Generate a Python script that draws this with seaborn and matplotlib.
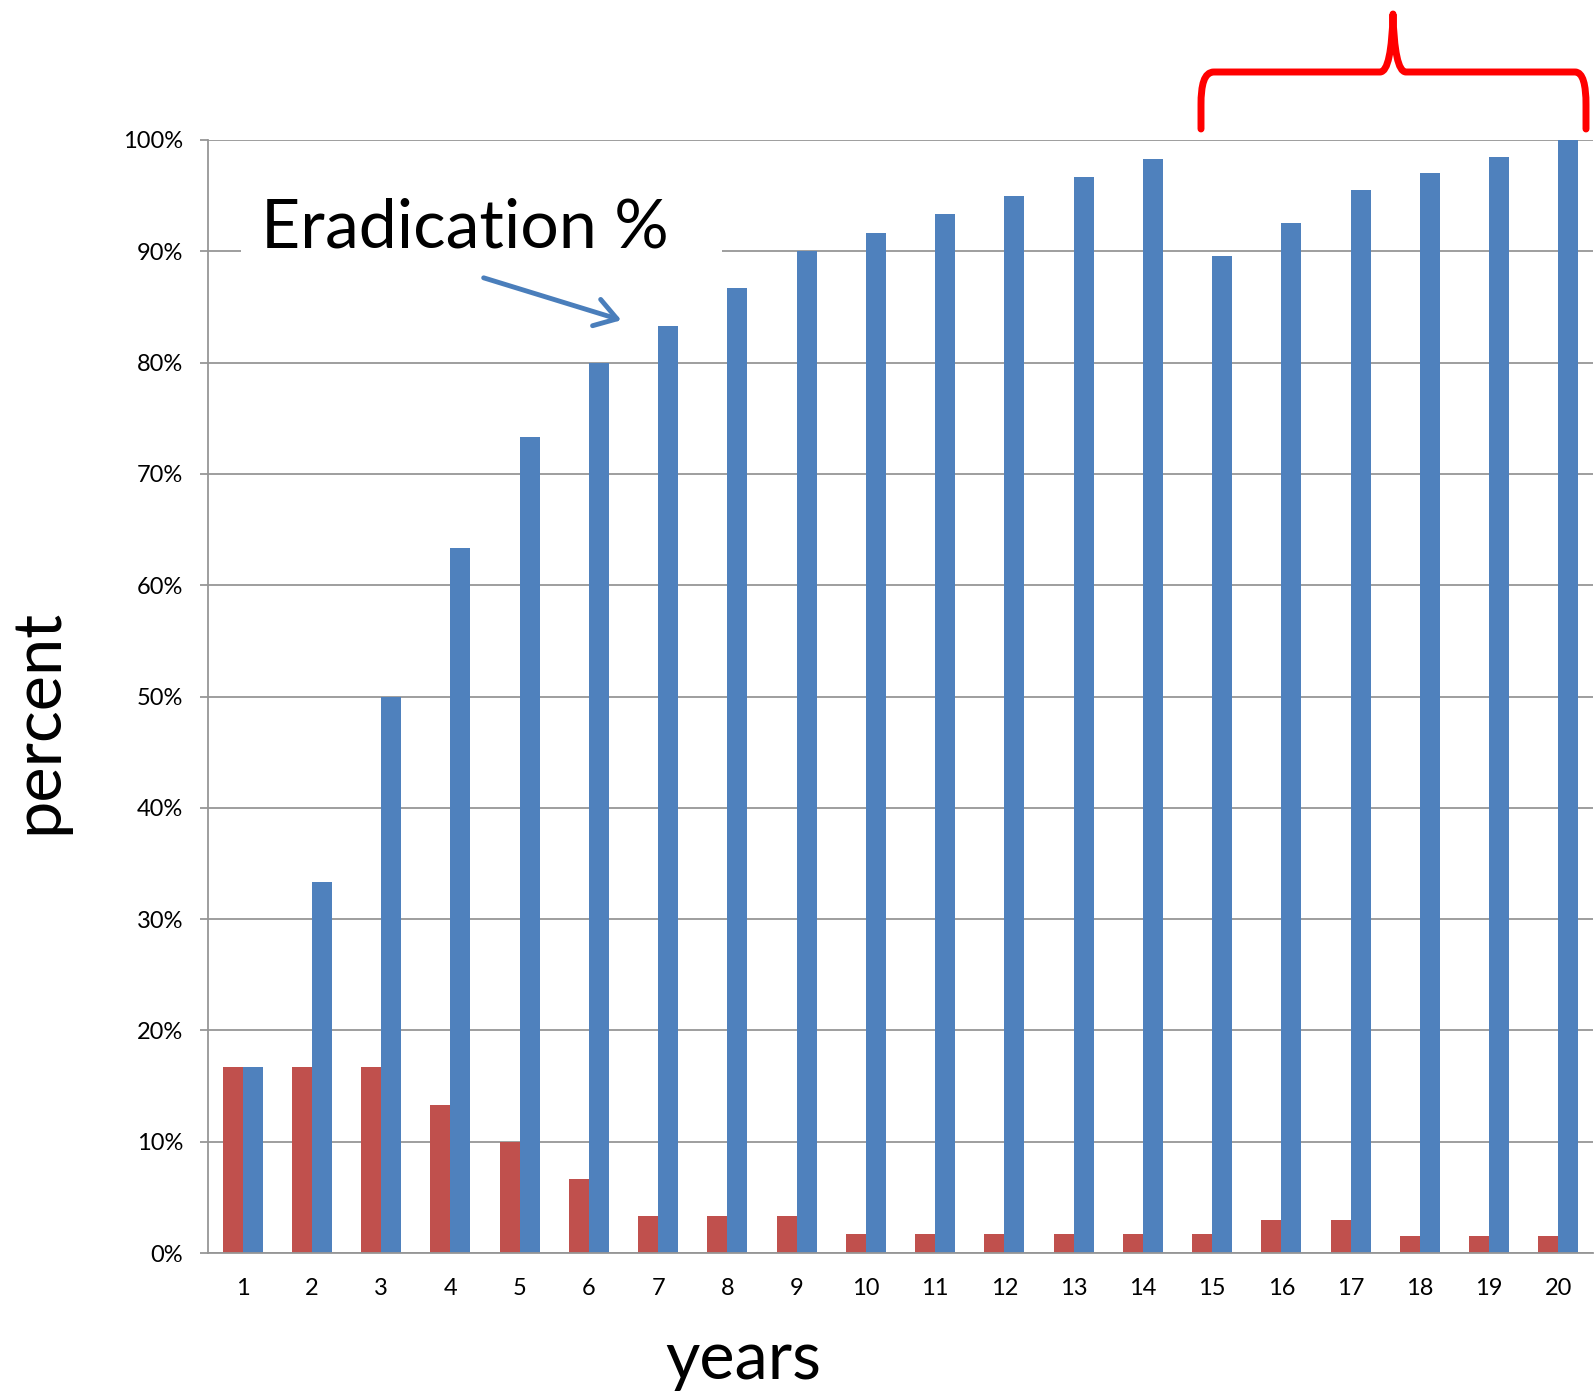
import numpy as np
import pandas as pd
import matplotlib
matplotlib.use("Agg")
import matplotlib.pyplot as plt
import seaborn as sns
from matplotlib.ticker import PercentFormatter
from matplotlib.path import Path
from matplotlib.patches import PathPatch, FancyArrowPatch, Rectangle

# ---- data ----
years = list(range(1, 21))
recurrence = [16.67, 16.67, 16.67, 13.33, 10.0, 6.67, 3.33, 3.33, 3.33, 1.67,
              1.67, 1.67, 1.67, 1.67, 1.67, 2.99, 2.99, 1.49, 1.49, 1.49]
eradication = [16.67, 33.33, 50.0, 63.33, 73.33, 80.0, 83.33, 86.67, 90.0, 91.67,
               93.33, 95.0, 96.67, 98.33, 89.55, 92.54, 95.52, 97.01, 98.51, 100.0]
series_names = ["Recurrence", "Eradication"]
y_ticks = list(range(0, 101, 10))

df = pd.DataFrame({
    "year": [str(y) for y in years] * 2,
    "series": [series_names[0]] * len(years) + [series_names[1]] * len(years),
    "value": recurrence + eradication,
})

W, H = 1595, 1397
DPI = 100
sns.set_style("white")
plt.rcParams["font.family"] = ["Lato", "DejaVu Sans"]
plt.rcParams["text.color"] = "black"
plt.rcParams["xtick.labelcolor"] = "black"
plt.rcParams["ytick.labelcolor"] = "black"

fig = plt.figure(figsize=(W / DPI, H / DPI), dpi=DPI)
ax = fig.add_axes([208 / W, 1 - 1253 / H, (1593 - 208) / W, (1253 - 140) / H])

RED = "#C0504D"
BLUE = "#4F81BD"
GRAY = "#969696"

sns.barplot(data=df, x="year", y="value", hue="series", hue_order=series_names,
            order=[str(y) for y in years], palette=[RED, BLUE], width=0.58,
            saturation=1, dodge=True, legend=False, ax=ax, linewidth=0, errorbar=None)

ax.set_ylim(0, 100)
ax.set_xlim(-0.5, len(years) - 0.5)
ax.set_yticks(y_ticks)
ax.yaxis.set_major_formatter(PercentFormatter(100, decimals=0))
ax.set_axisbelow(True)
ax.yaxis.grid(True, color=GRAY, linewidth=1.3)
ax.xaxis.grid(False)

ax.set_xticks(np.arange(-0.5, len(years), 1), minor=True)
ax.tick_params(axis="x", which="minor", length=6, width=1.3, color=GRAY, direction="out")
ax.tick_params(axis="x", which="major", length=0, pad=18, labelsize=17)
ax.tick_params(axis="y", which="major", length=6, width=1.3, color=GRAY, pad=12,
               labelsize=17, left=True)

for s in ["top", "right"]:
    ax.spines[s].set_visible(False)
for s in ["left", "bottom"]:
    ax.spines[s].set_color(GRAY)
    ax.spines[s].set_linewidth(1.3)

ax.set_xlabel("")
ax.set_ylabel("")
fig.text(743 / W, 1 - 1360 / H, "years", fontsize=48, ha="center", va="center")
fig.text(38 / W, 1 - 722 / H, "percent", fontsize=48, ha="center", va="center", rotation=90)

# Annotation text on a white box
fig.add_artist(Rectangle((241 / W, 1 - 264 / H), (722 - 241) / W, (264 - 180) / H,
                         transform=fig.transFigure, facecolor="white", edgecolor="none"))
fig.text(465 / W, 1 - 248 / H, "Eradication %", fontsize=49, ha="center", va="baseline")

arrow = FancyArrowPatch((481 / W, 1 - 277 / H), (624 / W, 1 - 321 / H),
                        transform=fig.transFigure, arrowstyle="->,head_length=0.7,head_width=0.45",
                        mutation_scale=22, color="#4A7EBB", linewidth=3.5)
fig.add_artist(arrow)

# Red brace
pts = [(1201, 129), (1201, 105),
       (1201, 85), (1204, 72), (1214, 72),
       (1380, 72),
       (1388, 72), (1392, 50), (1393, 14),
       (1394, 50), (1398, 72), (1406, 72),
       (1575, 72),
       (1583, 72), (1586, 85), (1586, 105),
       (1586, 129)]
codes = [Path.MOVETO, Path.LINETO,
         Path.CURVE4, Path.CURVE4, Path.CURVE4,
         Path.LINETO,
         Path.CURVE4, Path.CURVE4, Path.CURVE4,
         Path.CURVE4, Path.CURVE4, Path.CURVE4,
         Path.LINETO,
         Path.CURVE4, Path.CURVE4, Path.CURVE4,
         Path.LINETO]
verts = [(x / W, 1 - y / H) for x, y in pts]
brace = PathPatch(Path(verts, codes), transform=fig.transFigure, facecolor="none",
                  edgecolor="#FF0000", linewidth=5, capstyle="round", joinstyle="round")
fig.add_artist(brace)

fig.savefig("out.png", dpi=DPI)
